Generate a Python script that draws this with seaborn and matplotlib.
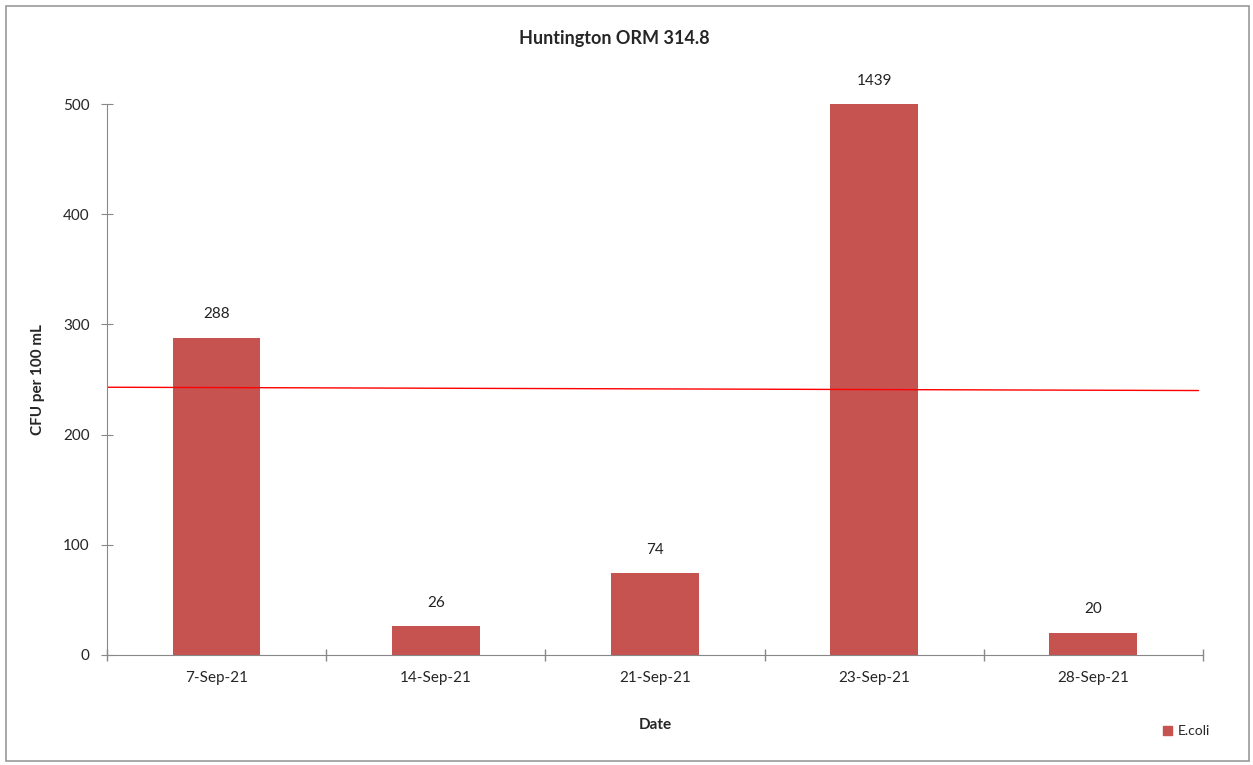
import matplotlib.pyplot as plt
import matplotlib.patches as mpatches
import numpy as np
import pandas as pd
import seaborn as sns

dates = ['7-Sep-21', '14-Sep-21', '21-Sep-21', '23-Sep-21', '28-Sep-21']
ecoli = [288, 26, 74, 1439, 20]
# red reference line (start / end value)
ref_line = [243, 240]
y_max = 500

sns.set_style('white')
plt.rcParams['font.family'] = ['Lato', 'DejaVu Sans']

df = pd.DataFrame({'date': dates, 'ecoli': ecoli})
bar_color = '#C65350'

fig = plt.figure(figsize=(12.53, 7.65), dpi=100, facecolor='w')
ax = fig.add_axes([0.0854, 0.1438, 0.8746, 0.7202])
sns.barplot(data=df, x='date', y='ecoli', color=bar_color, saturation=1, width=0.4, ax=ax, linewidth=0)
ax.set_ylim(0, y_max)
ax.set_xlim(-0.5, len(dates) - 0.5)

# value labels above bars (clipped bar label sits above the top)
for i, v in enumerate(ecoli):
    ax.text(i, min(v, y_max) + 15, str(v), ha='center', va='bottom', fontsize=11, color='#222222')

ax.plot([-0.5, len(dates) - 0.52], ref_line, color='#FF0000', lw=1)

ax.set_yticks(np.arange(0, 501, 100))
ax.set_xticks(np.arange(-0.5, len(dates)), minor=True)
ax.tick_params(axis='x', which='major', bottom=False, labelsize=11, pad=8)
ax.tick_params(axis='x', which='minor', bottom=True, length=9, direction='inout', color='#888888', width=1)
ax.tick_params(axis='y', left=True, length=9, direction='inout', color='#888888', labelsize=11, pad=8)
sns.despine(ax=ax)
for s in ['left', 'bottom']:
    ax.spines[s].set_color('#888888')

ax.set_xlabel('Date', fontsize=11, fontweight='bold', labelpad=24)
ax.set_ylabel('CFU per 100 mL', fontsize=11, fontweight='bold', va='center')
ax.yaxis.set_label_coords(-0.063, 0.5)
fig.text(0.49, 0.95, 'Huntington ORM 314.8', ha='center', va='center', fontsize=13, fontweight='bold')

handles = [mpatches.Patch(color=bar_color, label='E.coli')]
fig.legend(handles=handles, loc='center left', bbox_to_anchor=(0.918, 0.044), frameon=False,
           fontsize=10, handlelength=0.7, handleheight=0.7, handletextpad=0.4)

fig.add_artist(mpatches.Rectangle((0.005, 0.005), 0.992, 0.987, transform=fig.transFigure,
                                  fill=False, edgecolor='#999999', lw=1.2))

fig.savefig('out.png', dpi=100)
